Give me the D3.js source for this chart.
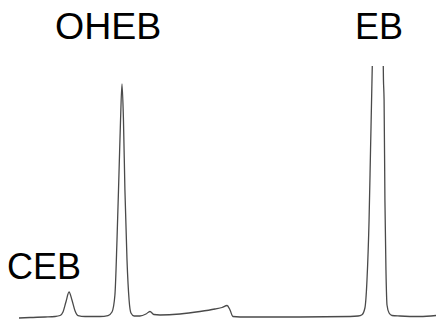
<!DOCTYPE html>
<html><head><meta charset="utf-8">
<script src="https://cdn.jsdelivr.net/npm/d3@7"></script>
<style>html,body{margin:0;padding:0;background:#fff;}svg{display:block;}</style>
</head><body><svg id="c" width="436" height="322"></svg>
<script>
// retention time (min)
const times = [0,0.53,1.25,1.73,1.97,2.11,2.25,2.40,2.54,2.69,2.83,3.17,3.88,4.27,4.46,4.60,4.70,4.80,4.87,4.94,5.01,5.08,5.18,5.28,5.37,5.52,5.80,6.09,6.28,6.47,6.76,7.72,8.68,9.40,9.74,9.98,10.12,10.26,10.60,13.48,15.88,16.26,16.45,16.59,16.69,16.79,16.86,16.93,17.00,17.07,17.22,17.36,17.43,17.48,17.51,17.55,17.60,17.65,17.75,17.89,18.27,19.23,20.00];
// detector signal (relative, OHEB = 100)
const signal = [-0.43,-0.21,0,0.21,0.64,2.15,6.44,10.73,7.30,2.58,0.64,0.21,0.21,0.64,2.15,9.44,33.05,63.09,84.55,100,84.55,54.51,24.46,7.30,1.72,0.43,0.43,1.29,2.36,1.07,0.86,1.29,2.36,3.43,4.08,4.94,3.00,0.21,0,0,0.21,0.43,1.0,3.86,15.88,41.63,71.67,101.7,136.05,200.4,264.8,200.4,136.05,101.7,93.13,50.21,20.17,5.15,1.72,0.64,0.43,0.21,0.64];
const peakNames = ["CEB","OHEB","EB"];
const labelX = [7,55,355];
const labelY = [279,39,39];
const labelSize = [36,37.5,36];

const svg = d3.select("#c");
const x = d3.scaleLinear().domain([0,20]).range([19,436]);
const y = d3.scaleLinear().domain([0,100]).range([317,84]);

svg.append("clipPath").attr("id","clip").append("rect")
  .attr("x",0).attr("y",66).attr("width",436).attr("height",256);

const data = times.map((t,i)=>({t, s: signal[i]}));
const line = d3.line().x(d=>x(d.t)).y(d=>y(d.s)).curve(d3.curveMonotoneX);
svg.append("path").datum(data).attr("d",line)
  .attr("clip-path","url(#clip)")
  .attr("fill","none").attr("stroke","#4a4a4a").attr("stroke-width",1.3);

svg.selectAll("text.lbl").data(peakNames).enter().append("text")
  .attr("class","lbl")
  .attr("x",(d,i)=>labelX[i]).attr("y",(d,i)=>labelY[i])
  .attr("font-family","Liberation Sans, Arial, sans-serif")
  .attr("font-size",(d,i)=>labelSize[i]).attr("fill","#000")
  .text(d=>d);
</script></body></html>
